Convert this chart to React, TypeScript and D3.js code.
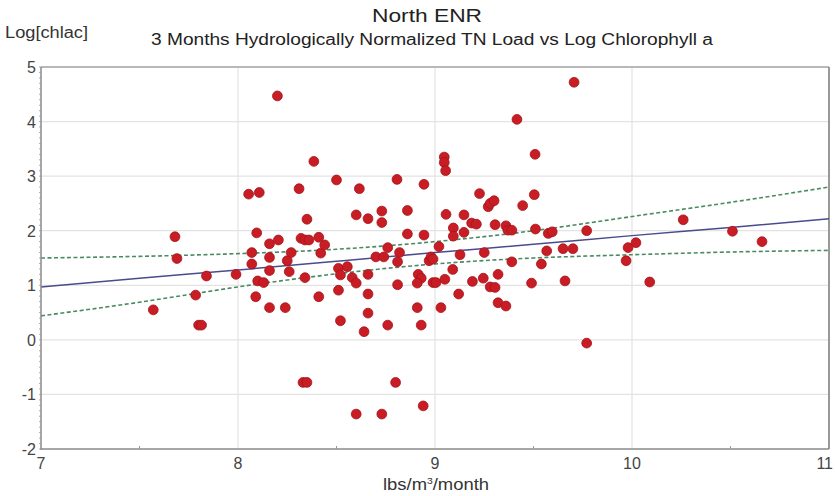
import React from 'react'
import * as d3 from 'd3'

// TN load (lbs/m3/month) and log chlorophyll a
const loadValues = [
  7.57, 7.68, 7.69, 7.785, 7.8, 7.815, 7.84, 7.99, 8.054, 8.07, 8.07, 8.095, 8.09, 8.1, 8.108, 8.13,
  8.16, 8.16, 8.16, 8.16, 8.2, 8.205, 8.24, 8.25, 8.26, 8.27, 8.31, 8.32, 8.33, 8.35, 8.34, 8.36,
  8.34, 8.35, 8.385, 8.41, 8.41, 8.42, 8.44, 8.5, 8.51, 8.51, 8.52, 8.52, 8.555, 8.58, 8.6, 8.6,
  8.6, 8.616, 8.64, 8.66, 8.66, 8.66, 8.66, 8.7, 8.73, 8.73, 8.73, 8.74, 8.76, 8.76, 8.8, 8.807,
  8.81, 8.81, 8.82, 8.86, 8.86, 8.91, 8.915, 8.93, 8.91, 8.93, 8.94, 8.944, 8.944, 8.97, 8.98, 8.99,
  8.99, 9.005, 9.02, 9.03, 9.047, 9.047, 9.054, 9.05, 9.056, 9.09, 9.093, 9.093, 9.12, 9.127, 9.147, 9.147,
  9.186, 9.19, 9.21, 9.226, 9.245, 9.25, 9.27, 9.28, 9.3, 9.28, 9.305, 9.305, 9.32, 9.32, 9.36, 9.36,
  9.37, 9.39, 9.39, 9.416, 9.445, 9.49, 9.504, 9.508, 9.51, 9.54, 9.567, 9.575, 9.595, 9.65, 9.66, 9.7,
  9.706, 9.77, 9.77, 9.97, 9.98, 10.02, 10.09, 10.26, 10.51, 10.66,
]
const logChla = [
  0.55, 1.89, 1.49, 0.82, 0.27, 0.27, 1.17, 1.2, 2.67, 1.6, 1.39, 1.96, 0.79, 1.08, 2.7, 1.05,
  1.76, 1.51, 1.27, 0.59, 4.47, 1.83, 0.59, 1.45, 1.25, 1.6, 2.77, 1.86, -0.78, -0.78, 1.83, 1.83,
  1.14, 2.21, 3.27, 1.88, 0.79, 1.59, 1.74, 2.93, 1.31, 0.91, 0.35, 1.19, 1.34, 1.14, 1.04, 2.29,
  -1.36, 2.77, 0.15, 2.22, 1.2, 0.84, 0.49, 1.52, 2.36, 2.15, -1.36, 1.52, 1.69, 0.27, -0.78, 2.94,
  1.43, 1.01, 1.6, 2.37, 1.94, 0.59, 1.2, 1.13, 1.04, 0.27, -1.21, 2.85, 1.92, 1.45, 1.52, 1.48,
  1.05, 1.05, 1.71, 0.59, 3.35, 3.25, 3.1, 1.11, 2.3, 1.29, 2.05, 1.9, 0.84, 1.56, 2.29, 1.97,
  2.14, 1.07, 2.12, 2.68, 1.13, 1.6, 2.44, 2.5, 2.55, 0.97, 0.96, 2.11, 1.2, 0.68, 0.62, 2.09,
  2.01, 2.01, 1.43, 4.04, 2.46, 1.04, 2.66, 3.4, 2.03, 1.39, 1.63, 1.95, 1.98, 1.67, 1.08, 1.67,
  4.72, 2.0, -0.06, 1.45, 1.69, 1.78, 1.06, 2.2, 1.99, 1.8,
]

// regression line and confidence band, read at half-unit steps
const bandX = [7, 7.5, 8, 8.5, 9, 9.5, 10, 10.5, 11]
const fitY = [0.97, 1.13, 1.28, 1.44, 1.6, 1.75, 1.91, 2.06, 2.22]
const upperY = [1.5, 1.53, 1.58, 1.66, 1.8, 2.0, 2.26, 2.52, 2.8]
const lowerY = [0.44, 0.69, 0.97, 1.21, 1.39, 1.5, 1.56, 1.61, 1.64]

const xTicks = [7, 8, 9, 10, 11]
const yTicks = [5, 4, 3, 2, 1, 0, -1, -2]

const W = 835
const H = 496
const m = { left: 41, right: 829, top: 67, bottom: 449 }
const font = "'Liberation Sans', Arial, sans-serif"

const App = () => {
  const x = d3.scaleLinear().domain([7, 11]).range([m.left, m.right])
  const y = d3.scaleLinear().domain([-2, 5]).range([m.bottom, m.top])

  const line = d3.line<number>()
    .x((d, i) => x(bandX[i]))
    .y(d => y(d))
    .curve(d3.curveNatural)

  const minorY = d3.range(-2, 5.001, 0.1)
  const minorX = [7.5, 8.5, 9.5, 10.5]

  return (
    <svg width={W} height={H} style={{ position: 'absolute', left: 0, top: 0, background: '#fff' }} fontFamily={font}>
      <text x={427} y={22} textAnchor="middle" fontSize={19} fill="#222" textLength={110} lengthAdjust="spacingAndGlyphs">North ENR</text>
      <text x={432} y={45} textAnchor="middle" fontSize={16} fill="#222" textLength={562} lengthAdjust="spacingAndGlyphs">
        3 Months Hydrologically Normalized TN Load vs Log Chlorophyll a
      </text>
      <text x={5} y={38} fontSize={16} fill="#333" textLength={83} lengthAdjust="spacingAndGlyphs">Log[chlac]</text>

      {/* grid */}
      {yTicks.filter(t => t > -2 && t < 5).map(t => (
        <line key={'gy' + t} x1={m.left} x2={m.right} y1={y(t)} y2={y(t)} stroke="#e3e3e3" strokeWidth={1.2} />
      ))}
      {xTicks.filter(t => t > 7 && t < 11).map(t => (
        <line key={'gx' + t} x1={x(t)} x2={x(t)} y1={m.top} y2={m.bottom} stroke="#e3e3e3" strokeWidth={1.2} />
      ))}

      {/* frame */}
      <line x1={m.left} x2={m.right} y1={m.top} y2={m.top} stroke="#b8b8b8" strokeWidth={2} />
      <line x1={m.right} x2={m.right} y1={m.top} y2={m.bottom} stroke="#999" strokeWidth={2} />

      {/* band and fit */}
      <path d={line(upperY) || ''} fill="none" stroke="#4a8a62" strokeWidth={1.6} strokeDasharray="4,2.5" />
      <path d={line(lowerY) || ''} fill="none" stroke="#4a8a62" strokeWidth={1.6} strokeDasharray="4,2.5" />
      <path d={line(fitY) || ''} fill="none" stroke="#4a4a8e" strokeWidth={1.5} />

      {/* points */}
      {loadValues.map((v, i) => (
        <circle key={i} cx={x(v)} cy={y(logChla[i])} r={4.9} fill="#c81d25" stroke="#a5141b" strokeWidth={0.8} />
      ))}

      {/* axes */}
      <line x1={m.left} x2={m.left} y1={m.top} y2={m.bottom + 1} stroke="#8a8a8a" strokeWidth={1.5} />
      <line x1={m.left} x2={m.right} y1={m.bottom} y2={m.bottom} stroke="#8a8a8a" strokeWidth={1.5} />
      {minorY.map((t, i) => (
        <line key={'my' + i} x1={m.left - 2} x2={m.left} y1={y(t)} y2={y(t)} stroke="#999" strokeWidth={0.8} />
      ))}
      {minorX.map(t => (
        <line key={'mx' + t} x1={x(t)} x2={x(t)} y1={m.bottom - 3} y2={m.bottom} stroke="#999" strokeWidth={1} />
      ))}
      {yTicks.map(t => (
        <text key={'ty' + t} x={36} y={y(t) + 6} textAnchor="end" fontSize={16} fill="#444">{t}</text>
      ))}
      {xTicks.map(t => (
        <text key={'tx' + t} x={t === 11 ? W - 2 : x(t)} y={469} textAnchor={t === 11 ? 'end' : 'middle'} fontSize={16} fill="#444">{t}</text>
      ))}
      <text x={436} y={490} textAnchor="middle" fontSize={16} fill="#333" textLength={106} lengthAdjust="spacingAndGlyphs">
        lbs/m<tspan dy={-6} fontSize={9}>3</tspan><tspan dy={6}>/month</tspan>
      </text>
    </svg>
  )
}

export default App
